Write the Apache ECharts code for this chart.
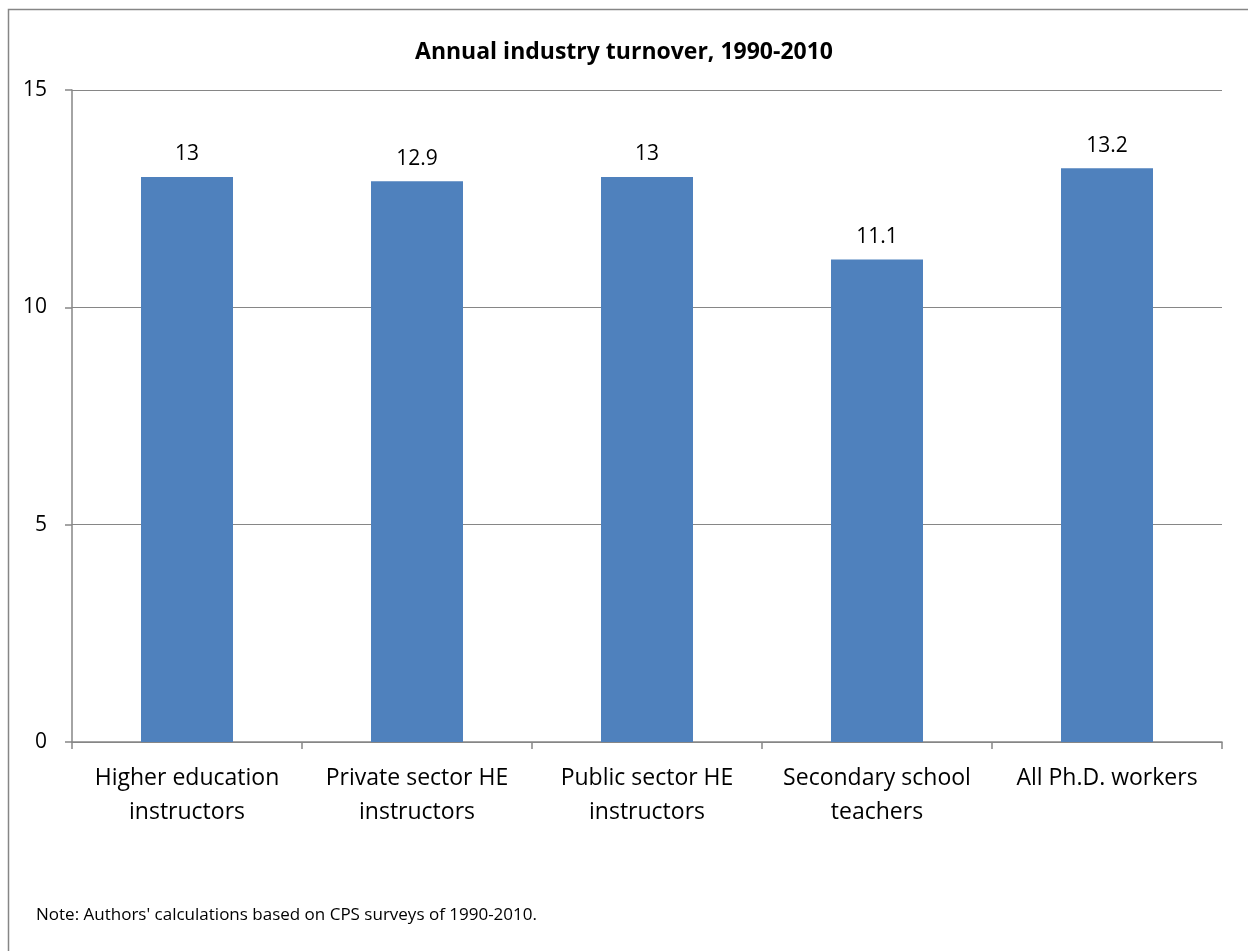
<!DOCTYPE html>
<html>
<head>
<meta charset="utf-8">
<style>
  html, body { margin: 0; padding: 0; background: #fff; }
  #chart { width: 1248px; height: 951px; }
</style>
<script src="https://cdn.jsdelivr.net/npm/echarts@6/dist/echarts.min.js"></script>
</head>
<body>
<div id="chart"></div>
<script>
// Occupation groups and their annual industry turnover (percent)
const categories = [
  'Higher education\ninstructors',
  'Private sector HE\ninstructors',
  'Public sector HE\ninstructors',
  'Secondary school\nteachers',
  'All Ph.D. workers'
];
const turnover = [13, 12.9, 13, 11.1, 13.2];
const yTicks = { min: 0, max: 15, interval: 5 };

const titleText = 'Annual industry turnover, 1990-2010';
const noteText = "Note: Authors' calculations based on CPS surveys of 1990-2010.";

const FONT = '"Open Sans", "Liberation Sans", sans-serif';
const GRAY = '#868686';

const chart = echarts.init(document.getElementById('chart'));
chart.setOption({
  animation: false,
  backgroundColor: '#fff',
  title: {
    text: titleText,
    left: 'center',
    top: 36,
    textStyle: { fontFamily: FONT, fontSize: 23, fontWeight: 'bold', color: '#000' }
  },
  graphic: [
    {
      type: 'polyline',
      shape: { points: [[8.5, 960], [8.5, 9.5], [1260, 9.5]] },
      style: { stroke: GRAY, lineWidth: 1.5, fill: null },
      silent: true
    },
    {
      type: 'text',
      left: 36,
      top: 907,
      style: { text: noteText, fontFamily: FONT, fontSize: 17, fill: '#000' }
    }
  ],
  grid: { left: 72, right: 26, top: 90, bottom: 209, containLabel: false },
  xAxis: {
    type: 'category',
    data: categories,
    axisLine: { lineStyle: { color: GRAY, width: 1.5 } },
    axisTick: { show: true, length: 7, alignWithLabel: false, lineStyle: { color: GRAY, width: 1.5 } },
    axisLabel: {
      interval: 0,
      margin: 19,
      fontFamily: FONT,
      fontSize: 23,
      lineHeight: 34,
      color: '#000'
    }
  },
  yAxis: {
    type: 'value',
    min: yTicks.min,
    max: yTicks.max,
    interval: yTicks.interval,
    axisLine: { show: true, lineStyle: { color: GRAY, width: 1.5 } },
    axisTick: { show: true, length: 7, lineStyle: { color: GRAY, width: 1.5 } },
    splitLine: { show: true, lineStyle: { color: GRAY, width: 1.2 } },
    axisLabel: { margin: 25, fontFamily: FONT, fontSize: 21, color: '#000' }
  },
  series: [{
    type: 'bar',
    data: turnover,
    barWidth: '40%',
    itemStyle: { color: '#4F81BD' },
    label: {
      show: true,
      position: 'top',
      distance: 12,
      fontFamily: FONT,
      fontSize: 21,
      color: '#000'
    }
  }]
});
</script>
</body>
</html>
